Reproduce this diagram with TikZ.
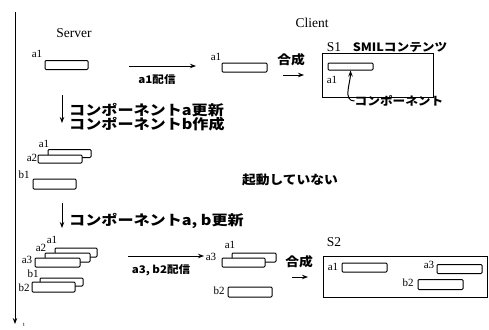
\documentclass[tikz,border=0pt]{standalone}
\usepackage{fontspec}
\setmainfont{Liberation Serif}
\newfontfamily\jp[FakeStretch=1.1]{Noto Sans CJK JP}
\newfontfamily\jpwide[FakeStretch=1.15]{Noto Sans CJK JP}
\usetikzlibrary{arrows.meta}
\begin{document}
\begin{tikzpicture}[x=1pt,y=-1pt,
  comp/.style={draw, fill=white, line width=1pt, rounded corners=1pt, minimum width=44pt, minimum height=9pt, inner sep=0pt},
  lbl/.style={font=\fontsize{11}{11}\selectfont, inner sep=0pt},
  big/.style={font=\fontsize{13.5}{13.5}\selectfont, inner sep=0pt},
  jpt/.style={font=\jp\bfseries\fontsize{11.5}{12}\selectfont, inner sep=0pt},
  jpstep/.style={font=\jpwide\bfseries\fontsize{14}{15}\selectfont, inner sep=0pt, anchor=west, align=left},
  arr/.style={-{Stealth[length=6pt,width=4.5pt]}, line width=1pt},
  frame/.style={draw, line width=1pt, inner sep=0pt}]
\useasboundingbox (0,0) rectangle (489,329);
% time axis
\coordinate (t0) at (15,12);
\coordinate (t1) at (15,324);
\draw[arr] (t0) -- (t1);
\node[font=\fontsize{6}{6}\selectfont, inner sep=0pt] (tl) at (24,325) {t};
% headers
\node[big] (server) at (74,33) {Server};
\node[big] (client) at (312,23) {Client};
% stage 1 server
\node[lbl] (sa1l) at (37,54) {a1};
\node[comp, minimum width=43pt] (sa1) at (66.5,65) {};
% a1 delivery
\coordinate (d1s) at (129,66);
\coordinate (d1e) at (196,66);
\draw[arr] (d1s) -- (d1e);
\node[jpt, font=\jp\bfseries\fontsize{10.5}{11}\selectfont] (d1l) at (157,80) {a1配信};
% client stage 1
\node[lbl] (ca1l) at (216,57) {a1};
\node[comp, minimum width=45pt] (ca1) at (244.5,67.5) {};
\node[jpt, font=\jp\bfseries\fontsize{12.5}{13}\selectfont] (g1) at (291,60) {合成};
\coordinate (g1s) at (283,75);
\coordinate (g1e) at (304,75);
\draw[arr] (g1s) -- (g1e);
% S1
\node[frame, minimum width=111pt, minimum height=44pt] (s1) at (377.5,75) {};
\node[big] (s1l) at (334,47) {S1};
\node[jpt] (smil) at (400,47) {SMILコンテンツ};
\node[comp, minimum width=45pt, minimum height=7pt] (s1a1) at (350.5,66.5) {};
\node[lbl] (s1a1l) at (332,80) {a1};
\node[jpt] (complab) at (399,101) {コンポーネント};
\draw[arr] (complab.west) to[out=180,in=-90] (s1a1.south);
% step 1
\coordinate (st1s) at (62,95);
\coordinate (st1e) at (62,123);
\draw[arr] (st1s) -- (st1e);
\node[jpstep] (st1t) at (69,117.5) {コンポーネントa更新\\[-1pt]コンポーネントb作成};
% stage 2 server
\node[lbl] (s2a1l) at (44,144) {a1};
\node[comp, minimum width=43pt, minimum height=8pt] (s2a1) at (69.5,153.5) {};
\node[lbl] (s2a2l) at (32,158) {a2};
\node[comp, minimum width=44pt, minimum height=8pt] (s2a2) at (60,159) {};
\node[lbl] (s2b1l) at (24,175) {b1};
\node[comp, minimum width=43pt, minimum height=10pt] (s2b1) at (54.5,184) {};
% not started
\node[jpt, font=\jp\bfseries\fontsize{12.5}{13}\selectfont] (nk) at (290,180) {起動していない};
% step 2
\coordinate (st2s) at (62,203);
\coordinate (st2e) at (62,228);
\draw[arr] (st2s) -- (st2e);
\node[jpstep] (st2t) at (69,221) {コンポーネントa, b更新};
% stage 3 server
\node[lbl] (s3a1l) at (52,240) {a1};
\node[comp, minimum width=42pt] (s3a1) at (76,252.5) {};
\node[lbl] (s3a2l) at (41,248) {a2};
\node[comp, minimum width=45pt] (s3a2) at (67.5,257.5) {};
\node[lbl] (s3a3l) at (27,260) {a3};
\node[comp, minimum width=45pt] (s3a3) at (57.5,262.5) {};
\node[lbl] (s3b1l) at (33,274) {b1};
\node[comp, minimum width=43pt, minimum height=8pt] (s3b1) at (61.5,282) {};
\node[lbl] (s3b2l) at (24,288) {b2};
\node[comp, minimum width=43pt, minimum height=10pt] (s3b2) at (53.5,287) {};
% a3,b2 delivery
\coordinate (d2s) at (128,256);
\coordinate (d2e) at (204,256);
\draw[arr] (d2s) -- (d2e);
\node[jpt, font=\jp\bfseries\fontsize{10.5}{11}\selectfont] (d2l) at (161,270) {a3, b2配信};
% client stage 3
\node[lbl] (c3a1l) at (230,245) {a1};
\node[comp, minimum width=44pt] (c3a1) at (254,257.5) {};
\node[lbl] (c3a3l) at (211,257) {a3};
\node[comp, minimum width=43pt] (c3a3) at (243.5,262.5) {};
\node[lbl] (c3b2l) at (219,291) {b2};
\node[comp, minimum width=44pt, minimum height=10pt] (c3b2) at (250,292) {};
\node[jpt, font=\jp\bfseries\fontsize{12.5}{13}\selectfont] (g2) at (299,262) {合成};
\coordinate (g2s) at (292,277);
\coordinate (g2e) at (308,277);
\draw[arr] (g2s) -- (g2e);
% S2
\node[frame, minimum width=164pt, minimum height=41pt] (s2) at (405,276.5) {};
\node[big] (s2l) at (334,242) {S2};
\node[lbl] (s2ia1l) at (333,267) {a1};
\node[comp, minimum width=45pt] (s2ia1) at (364.5,267.5) {};
\node[lbl] (s2ia3l) at (429,265) {a3};
\node[comp, minimum width=45pt] (s2ia3) at (459.5,269) {};
\node[lbl] (s2ib2l) at (408,283) {b2};
\node[comp, minimum width=45pt, minimum height=10pt] (s2ib2) at (440.5,284.5) {};
\end{tikzpicture}
\end{document}
